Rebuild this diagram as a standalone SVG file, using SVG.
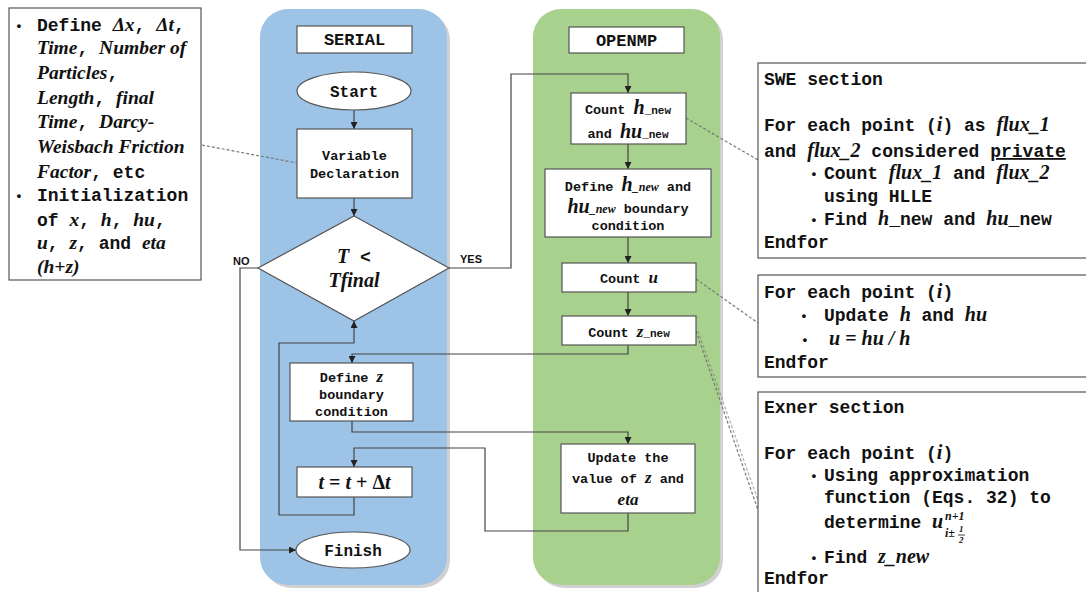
<svg xmlns="http://www.w3.org/2000/svg" width="1086" height="592" viewBox="0 0 1086 592">
<defs>
<style>
.m{font-family:"Liberation Mono","Courier New",monospace;font-weight:bold;fill:#111}
.s{font-family:"Liberation Serif","Times New Roman",serif;font-weight:bold;font-style:italic;fill:#111}
.lbl{font-family:"Liberation Sans",Arial,sans-serif;font-weight:bold;font-size:11px;fill:#111}
.box{fill:#fff;stroke:#555;stroke-width:1.2}
.conn{fill:none;stroke:#444;stroke-width:1.2}
.dash{fill:none;stroke:#777;stroke-width:1.2;stroke-dasharray:3 2}
.shadow{fill:#999;opacity:0.45}
.bul{font-family:"Liberation Mono","Courier New",monospace;font-weight:bold;font-size:13px;fill:#111}
</style>
<marker id="arr" viewBox="0 0 8 8" refX="8" refY="4" markerWidth="7" markerHeight="7" markerUnits="userSpaceOnUse" orient="auto">
<path d="M0,0 L8,4 L0,8 z" fill="#222"/>
</marker>
</defs>
<rect width="1086" height="592" fill="#fff"/>

<!-- lanes -->
<g id="lane-serial">
<rect class="shadow" x="263" y="12" width="187" height="576" rx="28"/>
<rect x="260" y="9" width="187" height="576" rx="28" fill="#9DC3E6"/>
</g>
<g id="lane-openmp">
<rect class="shadow" x="536" y="12" width="187" height="576" rx="28"/>
<rect x="533" y="9" width="187" height="576" rx="28" fill="#A9D18E"/>
</g>

<!-- dashed annotation links -->
<g id="annotations">
<path class="dash" d="M202,145 L297,163"/>
<path class="dash" d="M686,118 L758,160"/>
<path class="dash" d="M696,279 L758,323"/>
<path class="dash" d="M696,331 L758,510"/>
<path class="dash" d="M698,331 L760,506" opacity="0.6"/>
</g>

<!-- connectors -->
<g id="connectors">
<path class="conn" d="M354,110 V129" marker-end="url(#arr)"/>
<path class="conn" d="M354,198 V216" marker-end="url(#arr)"/>
<path class="conn" d="M449,268 H511 V74 H628 V93" marker-end="url(#arr)"/>
<path class="conn" d="M258,268 H240 V550 H296" marker-end="url(#arr)"/>
<path class="conn" d="M628,144 V169" marker-end="url(#arr)"/>
<path class="conn" d="M628,237 V263" marker-end="url(#arr)"/>
<path class="conn" d="M628,292 V316" marker-end="url(#arr)"/>
<path class="conn" d="M628,345 V354 H352 V363" marker-end="url(#arr)"/>
<path class="conn" d="M352,421 V432 H628 V444" marker-end="url(#arr)"/>
<path class="conn" d="M628,513 V531 H485 V448 H354 V467" marker-end="url(#arr)"/>
<path class="conn" d="M354,497 V515 H279 V343 H354 V321" marker-end="url(#arr)"/>
<text class="lbl" x="233" y="265">NO</text>
<text class="lbl" x="460" y="263">YES</text>
</g>

<!-- left note -->
<g id="note-left">
<rect class="box" x="9" y="8" width="192" height="272"/>
<g font-size="18">
<text class="bul" x="15" y="30">•</text>
<text x="37" y="31"><tspan class="m">Define </tspan><tspan class="s" font-size="19.5" font-style="normal">Δ</tspan><tspan class="s" font-size="19.5">x</tspan><tspan class="m">, </tspan><tspan class="s" font-size="19.5" font-style="normal">Δ</tspan><tspan class="s" font-size="19.5">t</tspan><tspan class="m">,</tspan></text>
<text x="37" y="54"><tspan class="s" font-size="19.5">Time</tspan><tspan class="m">, </tspan><tspan class="s" font-size="19.5">Number of</tspan></text>
<text x="37" y="79"><tspan class="s" font-size="19.5">Particles</tspan><tspan class="m">,</tspan></text>
<text x="37" y="104"><tspan class="s" font-size="19.5">Length</tspan><tspan class="m">, </tspan><tspan class="s" font-size="19.5">final</tspan></text>
<text x="37" y="128"><tspan class="s" font-size="19.5">Time</tspan><tspan class="m">, </tspan><tspan class="s" font-size="19.5">Darcy-</tspan></text>
<text x="37" y="153"><tspan class="s" font-size="19.5">Weisbach Friction</tspan></text>
<text x="37" y="178"><tspan class="s" font-size="19.5">Factor</tspan><tspan class="m">, etc</tspan></text>
<text class="bul" x="15" y="200">•</text>
<text x="37" y="201"><tspan class="m">Initialization</tspan></text>
<text x="37" y="226"><tspan class="m">of </tspan><tspan class="s" font-size="19.5">x</tspan><tspan class="m">, </tspan><tspan class="s" font-size="19.5">h</tspan><tspan class="m">, </tspan><tspan class="s" font-size="19.5">hu</tspan><tspan class="m">,</tspan></text>
<text x="37" y="249"><tspan class="s" font-size="19.5">u</tspan><tspan class="m">, </tspan><tspan class="s" font-size="19.5">z</tspan><tspan class="m">, and </tspan><tspan class="s" font-size="19.5">eta</tspan></text>
<text x="37" y="273"><tspan class="s" font-size="19.5">(h+z)</tspan></text>
</g>
</g>

<!-- serial nodes -->
<g id="serial-title">
<rect class="box" x="297" y="26" width="115" height="27"/>
<text class="m" x="354.5" y="45" font-size="17" text-anchor="middle">SERIAL</text>
</g>
<g id="start">
<ellipse class="box" cx="354" cy="91" rx="57" ry="19"/>
<text class="m" x="354" y="97" font-size="16" text-anchor="middle">Start</text>
</g>
<g id="var-decl">
<rect class="box" x="297" y="129" width="115" height="69"/>
<text class="m" x="354.5" y="160" font-size="13.5" text-anchor="middle">Variable</text>
<text class="m" x="354.5" y="178" font-size="13.5" text-anchor="middle">Declaration</text>
</g>
<g id="decision">
<polygon class="box" points="354,216 449,268 354,321 258,268"/>
<text x="354" y="263" text-anchor="middle"><tspan class="s" font-size="20">T</tspan><tspan class="m" font-size="18"> &lt;</tspan></text>
<text class="s" x="354" y="287" font-size="20" text-anchor="middle">Tfinal</text>
</g>
<g id="define-z">
<rect class="box" x="290" y="363" width="123" height="58"/>
<text x="351.5" y="382" font-size="13.5" text-anchor="middle"><tspan class="m">Define </tspan><tspan class="s" font-size="17">z</tspan></text>
<text class="m" x="351.5" y="399" font-size="13.5" text-anchor="middle">boundary</text>
<text class="m" x="351.5" y="416" font-size="13.5" text-anchor="middle">condition</text>
</g>
<g id="t-update">
<rect class="box" x="297" y="467" width="115" height="30"/>
<text class="s" x="354.5" y="489" font-size="20" text-anchor="middle"><tspan>t</tspan><tspan font-style="normal"> = </tspan><tspan>t</tspan><tspan font-style="normal"> + Δ</tspan><tspan>t</tspan></text>
</g>
<g id="finish">
<ellipse class="box" cx="353" cy="550" rx="57" ry="18"/>
<text class="m" x="353" y="556" font-size="16" text-anchor="middle">Finish</text>
</g>

<!-- openmp nodes -->
<g id="openmp-title">
<rect class="box" x="569" y="27" width="115" height="26"/>
<text class="m" x="626.5" y="46" font-size="17" text-anchor="middle">OPENMP</text>
</g>
<g id="count-hnew">
<rect class="box" x="571" y="93" width="115" height="51"/>
<text x="628" y="114" text-anchor="middle"><tspan class="m" font-size="13.5">Count </tspan><tspan class="s" font-size="20">h</tspan><tspan class="m" font-size="11">_new</tspan></text>
<text x="628" y="138" text-anchor="middle"><tspan class="m" font-size="13.5">and </tspan><tspan class="s" font-size="20">hu</tspan><tspan class="m" font-size="11">_new</tspan></text>
</g>
<g id="define-hnew">
<rect class="box" x="545" y="169" width="166" height="68"/>
<text x="628" y="191" text-anchor="middle"><tspan class="m" font-size="13.5">Define </tspan><tspan class="s" font-size="20">h</tspan><tspan class="s" font-size="12">_new</tspan><tspan class="m" font-size="13.5"> and</tspan></text>
<text x="628" y="213" text-anchor="middle"><tspan class="s" font-size="20">hu</tspan><tspan class="s" font-size="12">_new</tspan><tspan class="m" font-size="13.5"> boundary</tspan></text>
<text class="m" x="628" y="230" font-size="13.5" text-anchor="middle">condition</text>
</g>
<g id="count-u">
<rect class="box" x="562" y="263" width="134" height="29"/>
<text x="629" y="283" text-anchor="middle"><tspan class="m" font-size="13.5">Count </tspan><tspan class="s" font-size="17">u</tspan></text>
</g>
<g id="count-znew">
<rect class="box" x="562" y="316" width="134" height="29"/>
<text x="629" y="337" text-anchor="middle"><tspan class="m" font-size="13.5">Count </tspan><tspan class="s" font-size="17">z</tspan><tspan class="m" font-size="11">_new</tspan></text>
</g>
<g id="update-z">
<rect class="box" x="561" y="444" width="134" height="69"/>
<text class="m" x="628" y="462" font-size="13.5" text-anchor="middle">Update the</text>
<text x="628" y="483" text-anchor="middle"><tspan class="m" font-size="13.5">value of </tspan><tspan class="s" font-size="17">z</tspan><tspan class="m" font-size="13.5"> and</tspan></text>
<text class="s" x="628" y="505" font-size="17" text-anchor="middle">eta</text>
</g>

<!-- right notes -->
<g id="note-swe" font-size="18">
<rect class="box" x="758" y="63" width="340" height="195"/>
<text class="m" x="764" y="85">SWE section</text>
<text x="764" y="131"><tspan class="m">For each point (</tspan><tspan class="s" font-size="20">i</tspan><tspan class="m">) as </tspan><tspan class="s" font-size="20">flux_1</tspan></text>
<text x="764" y="157"><tspan class="m">and </tspan><tspan class="s" font-size="20">flux_2</tspan><tspan class="m"> considered </tspan><tspan class="m" text-decoration="underline">private</tspan></text>
<text class="bul" x="810" y="178">•</text>
<text x="824" y="179"><tspan class="m">Count </tspan><tspan class="s" font-size="20">flux_1</tspan><tspan class="m"> and </tspan><tspan class="s" font-size="20">flux_2</tspan></text>
<text class="m" x="824" y="202">using HLLE</text>
<text class="bul" x="810" y="224">•</text>
<text x="824" y="225"><tspan class="m">Find </tspan><tspan class="s" font-size="20">h</tspan><tspan class="m">_new and </tspan><tspan class="s" font-size="20">hu</tspan><tspan class="m">_new</tspan></text>
<text class="m" x="764" y="248">Endfor</text>
</g>
<g id="note-u" font-size="18">
<rect class="box" x="758" y="275" width="340" height="102"/>
<text x="764" y="298"><tspan class="m">For each point (</tspan><tspan class="s" font-size="20">i</tspan><tspan class="m">)</tspan></text>
<text class="bul" x="800" y="320">•</text>
<text x="824" y="321"><tspan class="m">Update </tspan><tspan class="s" font-size="20">h</tspan><tspan class="m"> and </tspan><tspan class="s" font-size="20">hu</tspan></text>
<text class="bul" x="801" y="344">•</text>
<text class="s" x="829" y="345" font-size="20"><tspan>u</tspan><tspan font-style="normal"> = </tspan><tspan>hu</tspan><tspan> /  </tspan><tspan>h</tspan></text>
<text class="m" x="764" y="368">Endfor</text>
</g>
<g id="note-exner" font-size="18">
<rect class="box" x="758" y="392" width="340" height="210"/>
<text class="m" x="764" y="413">Exner section</text>
<text x="764" y="459"><tspan class="m">For each point (</tspan><tspan class="s" font-size="20">i</tspan><tspan class="m">)</tspan></text>
<text class="bul" x="810" y="480">•</text>
<text class="m" x="824" y="481">Using approximation</text>
<text class="m" x="824" y="503">function (Eqs. 32) to</text>
<text x="824" y="528"><tspan class="m">determine </tspan><tspan class="s" font-size="20">u</tspan></text>
<text class="s" x="945" y="520" font-size="12">n+1</text>
<text class="s" x="945" y="537" font-size="12">i±</text>
<text class="s" x="959" y="532" font-size="9">1</text>
<line x1="958" y1="535" x2="965" y2="535" stroke="#111" stroke-width="0.8"/>
<text class="s" x="959" y="543" font-size="9">2</text>
<text class="bul" x="810" y="562">•</text>
<text x="824" y="563"><tspan class="m">Find </tspan><tspan class="s" font-size="20">z_new</tspan></text>
<text class="m" x="764" y="584">Endfor</text>
</g>
</svg>
